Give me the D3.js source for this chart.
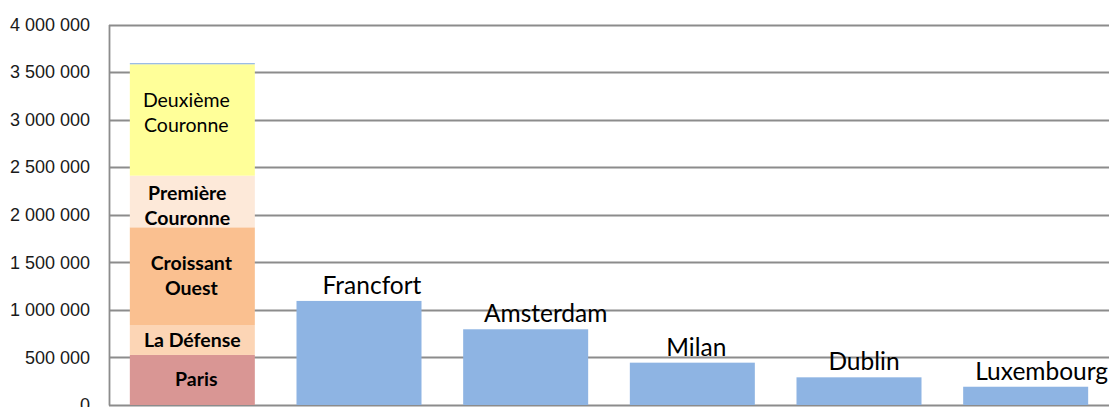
<!DOCTYPE html>
<html>
<head>
<meta charset="utf-8">
<script src="https://cdn.jsdelivr.net/npm/d3@7"></script>
<style>
  html, body { margin: 0; padding: 0; background: #fff; overflow: hidden; }
  svg { display: block; }
</style>
</head>
<body>
<svg id="chart" width="1111" height="407"></svg>
<script>
// Office stock by market (m²)
const categories = ["Île-de-France", "Francfort", "Amsterdam", "Milan", "Dublin", "Luxembourg"];

// Île-de-France is split into its sub-markets; other cities are a single value
const paris            = [526000, 0, 0, 0, 0, 0];
const laDefense        = [315000, 0, 0, 0, 0, 0];
const croissantOuest   = [1027000, 0, 0, 0, 0, 0];
const premiereCouronne = [543000, 0, 0, 0, 0, 0];
const deuxiemeCouronne = [1171000, 0, 0, 0, 0, 0];
const villes           = [12000, 1094000, 796000, 445000, 291000, 192000];

const yTicks = [0, 500000, 1000000, 1500000, 2000000, 2500000, 3000000, 3500000, 4000000];

// ---- layout ----
const plot = { left: 109, right: 1109, top: 24.5, bottom: 405 };

const keys = ["paris", "laDefense", "croissantOuest", "premiereCouronne", "deuxiemeCouronne", "villes"];
const colors = {
  paris: "#d99694",
  laDefense: "#fcd5b5",
  croissantOuest: "#fac090",
  premiereCouronne: "#fde9d9",
  deuxiemeCouronne: "#ffff99",
  villes: "#8eb4e3"
};
const boldSeg = { paris: true, laDefense: true, croissantOuest: true, premiereCouronne: true, deuxiemeCouronne: false };
const segLines = {
  paris: ["Paris"],
  laDefense: ["La Défense"],
  croissantOuest: ["Croissant", "Ouest"],
  premiereCouronne: ["Première", "Couronne"],
  deuxiemeCouronne: ["Deuxième", "Couronne"]
};
// offsets of each segment label block (px)
const segNudgeY = { paris: 0, laDefense: 1, croissantOuest: 0, premiereCouronne: 5, deuxiemeCouronne: -6 };
const segNudgeX = { paris: 4, laDefense: 0, croissantOuest: -1, premiereCouronne: -5, deuxiemeCouronne: -6 };
// horizontal nudge of each city label relative to its bar centre (px)
const cityLabelNudge = [0, 13, 20, 4, 5, 16];

const rows = categories.map((c, i) => ({
  cat: c,
  paris: paris[i],
  laDefense: laDefense[i],
  croissantOuest: croissantOuest[i],
  premiereCouronne: premiereCouronne[i],
  deuxiemeCouronne: deuxiemeCouronne[i],
  villes: villes[i]
}));

const x = d3.scaleBand()
  .domain(categories)
  .range([plot.left, plot.right])
  .paddingInner(0.25)
  .paddingOuter(0.125);

const y = d3.scaleLinear()
  .domain([0, 4000000])
  .range([plot.bottom, plot.top]);

const svg = d3.select("#chart");
const fmt = v => d3.format(",")(v).replace(/,/g, " ");

// gridlines
svg.append("g")
  .selectAll("line")
  .data(yTicks)
  .join("line")
  .attr("x1", plot.left)
  .attr("x2", plot.right)
  .attr("y1", d => Math.round(y(d)) + 0.5)
  .attr("y2", d => Math.round(y(d)) + 0.5)
  .attr("stroke", "#8c8c8c")
  .attr("stroke-width", 1.8);

// y axis
const yAxis = d3.axisLeft(y)
  .tickValues(yTicks)
  .tickSize(0)
  .tickPadding(19)
  .tickFormat(fmt);

const ax = svg.append("g")
  .attr("transform", `translate(${plot.left},0)`)
  .call(yAxis);
ax.select(".domain").attr("stroke", "#8c8c8c").attr("stroke-width", 1.8);
ax.selectAll("text")
  .attr("font-family", "'Liberation Sans', Arial, sans-serif")
  .attr("font-size", 18)
  .attr("fill", "#1a1a1a");

// stacked bars
const stack = d3.stack().keys(keys);
const series = stack(rows);

const gBars = svg.append("g");
series.forEach(s => {
  gBars.append("g")
    .attr("fill", colors[s.key])
    .selectAll("rect")
    .data(s.filter(d => d[1] - d[0] > 0))
    .join("rect")
    .attr("x", d => x(d.data.cat))
    .attr("width", x.bandwidth())
    .attr("y", d => y(d[1]))
    .attr("height", d => y(d[0]) - y(d[1]));
});

// segment labels inside the first column
const gSeg = svg.append("g")
  .attr("font-family", "Lato, 'Open Sans', sans-serif")
  .attr("font-size", 19.5)
  .attr("fill", "#000")
  .attr("text-anchor", "middle");

series.filter(s => s.key !== "villes").forEach(s => {
  const d = s[0];
  const cx = x(d.data.cat) + x.bandwidth() / 2 + segNudgeX[s.key];
  const cy = (y(d[0]) + y(d[1])) / 2 + segNudgeY[s.key];
  const lines = segLines[s.key];
  const lh = 25;
  const t = gSeg.append("text")
    .attr("font-weight", boldSeg[s.key] ? "bold" : "normal")
    .attr("x", cx)
    .attr("y", cy - (lines.length - 1) * lh / 2 + 6);
  lines.forEach((ln, k) => {
    t.append("tspan")
      .attr("x", cx)
      .attr("dy", k === 0 ? 0 : lh)
      .text(ln);
  });
});

// city labels above the single-value bars
svg.append("g")
  .attr("font-family", "Lato, 'Open Sans', sans-serif")
  .attr("font-size", 24.5)
  .attr("fill", "#000")
  .attr("text-anchor", "middle")
  .selectAll("text")
  .data(rows.map((r, i) => ({ r, i })).filter(o => o.i > 0))
  .join("text")
  .attr("x", o => x(o.r.cat) + x.bandwidth() / 2 + cityLabelNudge[o.i])
  .attr("y", o => y(o.r.villes) - 7)
  .text(o => o.r.cat);
</script>
</body>
</html>
